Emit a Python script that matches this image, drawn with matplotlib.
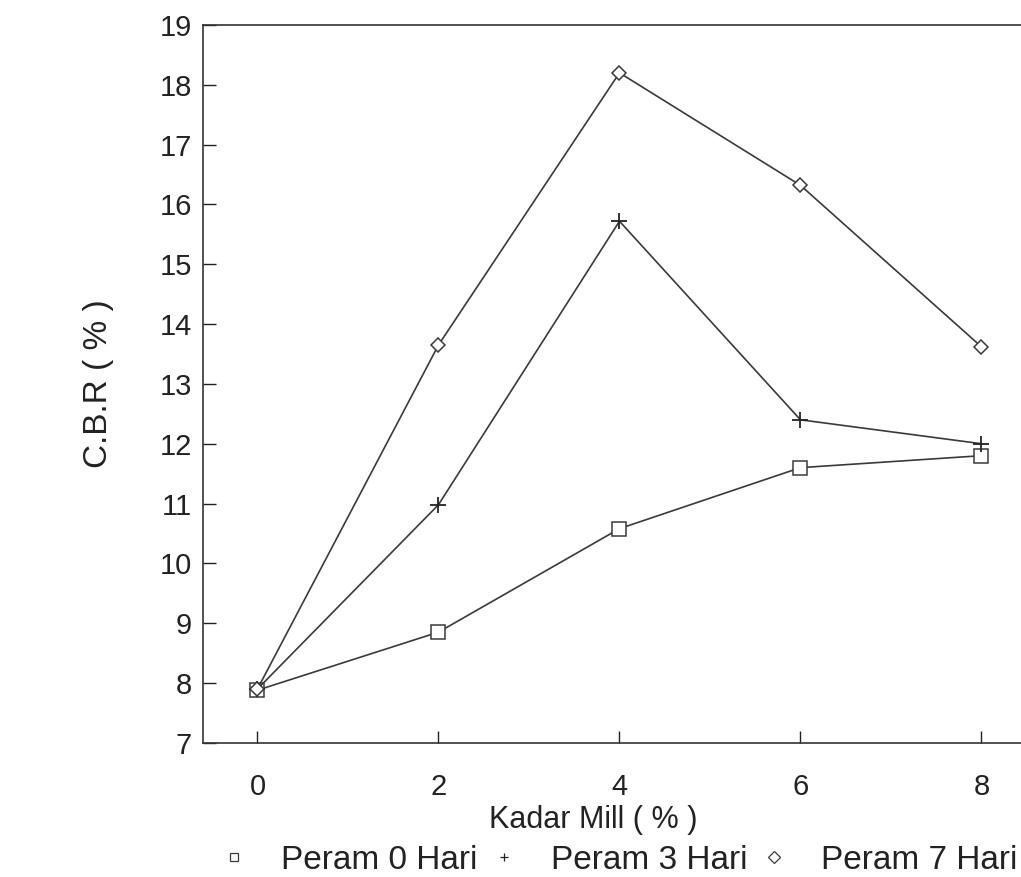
import numpy as np
import matplotlib.pyplot as plt

# ---------------- data ----------------
kadar = [0, 2, 4, 6, 8]
peram0 = [7.88, 8.85, 10.58, 11.60, 11.80]
peram3 = [7.90, 10.98, 15.72, 12.40, 12.00]
peram7 = [7.90, 13.65, 18.20, 16.32, 13.62]
labels = ['Peram 0 Hari', 'Peram 3 Hari', 'Peram 7 Hari']

plt.rcParams['font.family'] = ['Liberation Sans', 'DejaVu Sans']

fig = plt.figure(figsize=(10.21, 8.77), dpi=100)
ax = fig.add_axes([0.199, 0.153, 0.811, 0.8185])

lc = '#3a3a3a'
ax.plot(kadar, peram0, '-', color=lc, lw=1.2, marker='s', ms=10, mfc='white', mec=lc, mew=1.1, label=labels[0])
ax.plot(kadar, peram3, '-', color=lc, lw=1.2, marker='+', ms=11, mec='#222222', mew=1.3, label=labels[1])
ax.plot(kadar, peram7, '-', color=lc, lw=1.2, marker='D', ms=7, mfc='white', mec=lc, mew=1.1, label=labels[2])

ax.set_xlim(-0.6, 8.55)
ax.set_ylim(7, 19)
ax.set_xticks(kadar)
ax.set_yticks(np.arange(7, 20, 1))
ax.tick_params(direction='in', length=9, width=1, labelsize=21, colors='#222222', pad=8)
ax.tick_params(axis='x', pad=22)
ax.spines['right'].set_visible(False)
for s in ['left', 'bottom', 'top']:
    ax.spines[s].set_color('#333333')
    ax.spines[s].set_linewidth(1.2)

ax.set_xlabel('Kadar Mill ( % )', fontsize=22, color='#222222', va='center')
ax.xaxis.set_label_coords(0.471, -0.108)
ax.set_ylabel('C.B.R ( % )', fontsize=24, color='#222222', va='center')
ax.yaxis.set_label_coords(-0.127, 0.5)

leg = fig.legend(loc='center', bbox_to_anchor=(0.608, 0.019), ncol=3, frameon=False,
                 fontsize=24, handlelength=0.6, handletextpad=1.1, columnspacing=0.5,
                 labelcolor='#222222', borderpad=0, borderaxespad=0)
for h in leg.legend_handles:
    h.set_linestyle('none')
    h.set_markersize(6)
    h.set_markeredgewidth(0.9)

fig.savefig('out.png', dpi=100)
